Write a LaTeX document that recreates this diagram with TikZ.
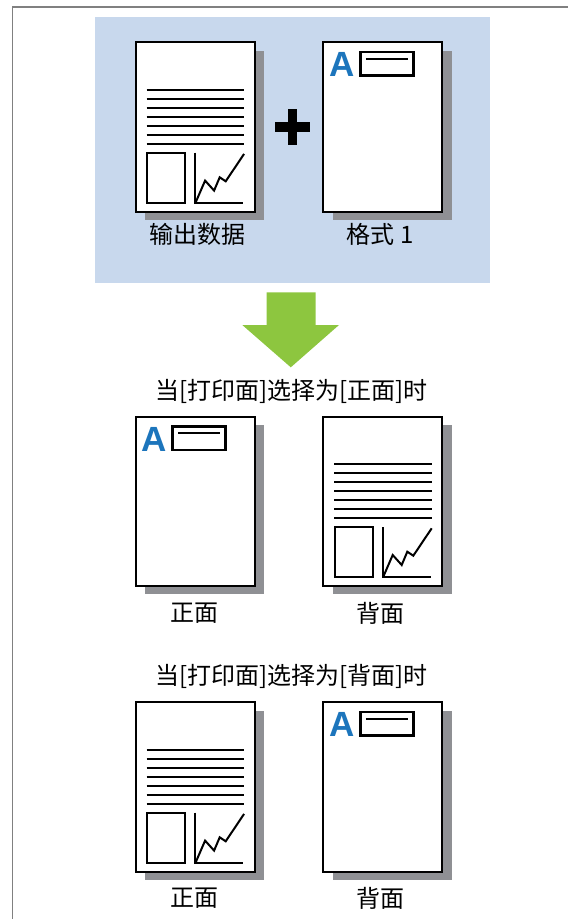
\documentclass[tikz,border=0pt]{standalone}
\usepackage{fontspec}
\newfontfamily\cjk{Noto Sans CJK SC}
\newfontfamily\afont{Liberation Sans}
\definecolor{bgblue}{RGB}{200,216,237}
\definecolor{shadowgray}{RGB}{143,144,148}
\definecolor{ablue}{RGB}{28,117,188}
\definecolor{arrowgreen}{RGB}{141,198,63}
\definecolor{framegray}{RGB}{128,128,128}
\tikzset{
  pg/.style={draw=black, line width=2pt, fill=white, minimum width=119pt, minimum height=169.4pt, inner sep=0pt, outer sep=0pt, anchor=north west},
  shd/.style={fill=shadowgray, draw=none, minimum width=119pt, minimum height=169.4pt, inner sep=0pt, anchor=north west},
  txtline/.style={draw=black, line width=2.1pt},
  fig/.style={draw=black, line width=2pt},
  formbox/.style={draw=black, line width=2.6pt},
  bigA/.style={font=\afont\bfseries\fontsize{35}{35}\selectfont, text=ablue, inner sep=0pt, anchor=base west},
  lbl/.style={font=\cjk\fontsize{24}{24}\selectfont, inner sep=0pt, anchor=center},
  ttl/.style={font=\cjk\fontsize{24}{24}\selectfont, inner sep=0pt, anchor=center},
}
\newcommand\datapage[3]{%
  \begin{scope}[shift={(#2,#3)}]
    \node[shd] (#1s) at (9,8) {};
    \node[pg] (#1) at (0,0) {};
    \foreach \k in {0,...,6} \draw[txtline] (11,47.7+9*\k) -- (108.3,47.7+9*\k);
    \draw[fig] (11.6,110.4) rectangle (49.3,160.4);
    \draw[fig] (59.3,110.4) -- (59.3,160.4) -- (107.6,160.4);
    \draw[fig, line join=miter] (60,160) -- (69.4,138.3) -- (78.4,148.3) -- (84,135) -- (90,139) -- (108.4,111.6);
  \end{scope}}
\newcommand\formpage[3]{%
  \begin{scope}[shift={(#2,#3)}]
    \node[shd] (#1s) at (9,8) {};
    \node[pg] (#1) at (0,0) {};
    \node[bigA] (#1a) at (5.5,34.6) {A};
    \draw[formbox] (37,9.6) rectangle (90,33.4);
    \draw[formbox, line width=2.2pt] (42.6,16.4) -- (84.3,16.4);
  \end{scope}}
\begin{document}
\begin{tikzpicture}[x=1pt,y=-1pt]
  \useasboundingbox (0,0) rectangle (568,919);
  % frame
  \draw[framegray, line width=1.6pt] (12.3,921) -- (12.3,6.7) -- (570,6.7);
  % blue background
  \fill[bgblue] (95,17) rectangle (489.5,283);
  % top row
  \datapage{d1}{135.7}{42.3}
  \formpage{f1}{323.3}{42.3}
  \fill[black] (275,122) rectangle (310,131.5);
  \fill[black] (287.5,109) rectangle (297,145);
  \node[lbl] (l1) at (197,234) {输出数据};
  \node[lbl] (l2) at (380,234) {格式 1};
  % green arrow
  \fill[arrowgreen] (266.7,292.3) -- (315.7,292.3) -- (315.7,325) -- (339,325) -- (290.8,367.3) -- (242.3,325) -- (266.7,325) -- cycle;
  % second block
  \node[ttl] (t1) at (291.7,391) {当[打印面]选择为[正面]时};
  \formpage{f2}{135.7}{416.7}
  \datapage{d2}{323.3}{416.7}
  \node[lbl] (l3) at (194,613) {正面};
  \node[lbl] (l4) at (380.7,613) {背面};
  % third block
  \node[ttl] (t2) at (291.7,676) {当[打印面]选择为[背面]时};
  \datapage{d3}{135.7}{702.3}
  \formpage{f3}{323.3}{702.3}
  \node[lbl] (l5) at (194,898) {正面};
  \node[lbl] (l6) at (380.7,898) {背面};
\end{tikzpicture}
\end{document}
